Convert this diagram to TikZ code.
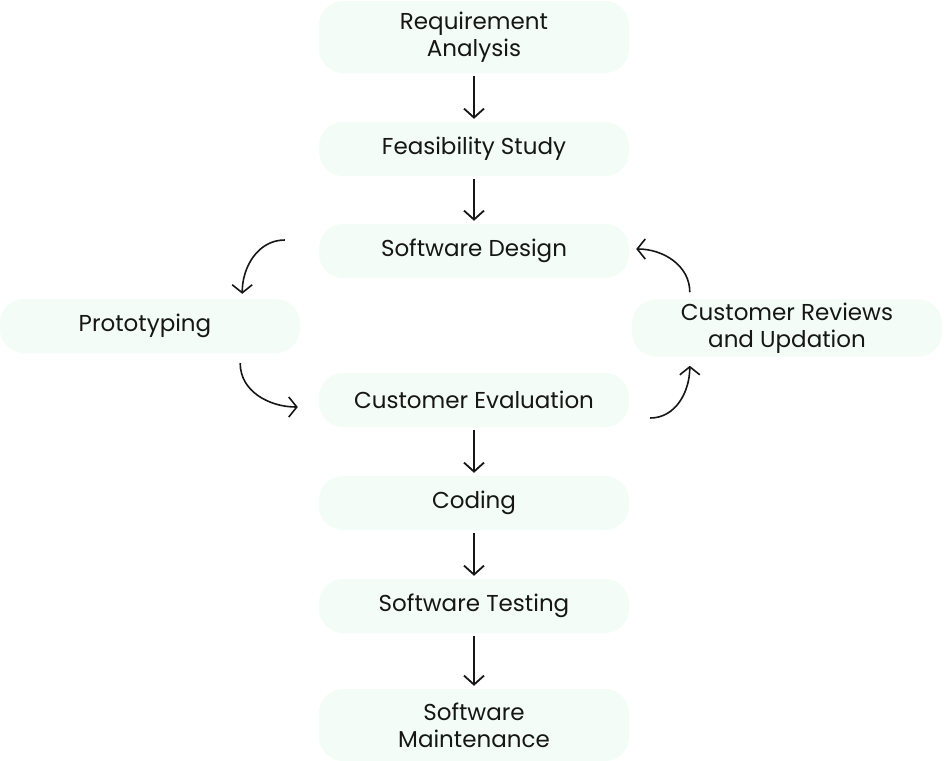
\documentclass[tikz,border=0pt]{standalone}
\usepackage{fontspec}
\setmainfont{Poppins}
\usetikzlibrary{arrows.meta}
\definecolor{mint}{RGB}{243,252,247}
\definecolor{ink}{RGB}{22,22,22}

\begin{document}
\begin{tikzpicture}[
	x=1pt, y=-1pt,
	stagebox/.style={rectangle, rounded corners=24pt, fill=mint, text=ink, minimum width=310pt, minimum height=54pt, align=center, font=\fontsize{23}{27}\selectfont},
	flow/.style={-{Straight Barb[length=9pt, width=20pt, line width=1.8pt]}, line width=1.8pt, ink, shorten <=3pt, shorten >=3pt},
	loop/.style={-{Straight Barb[length=8pt, width=20pt, line width=1.6pt]}, line width=1.6pt, ink},
	]
	\useasboundingbox (0,0) rectangle (946,761);
	%Nodes
	\node[stagebox, minimum height=72pt] (req)   at (474,37)  {Requirement\\Analysis};
	\node[stagebox]                      (feas)  at (474,149) {Feasibility Study};
	\node[stagebox]                      (des)   at (474,251) {Software Design};
	\node[stagebox, minimum width=300pt] (proto) at (150,326) {\hspace*{-10pt}Prototyping};
	\node[stagebox]                      (rev)   at (787,328) {Customer Reviews\\and Updation};
	\node[stagebox]                      (eval)  at (474,400) {Customer Evaluation};
	\node[stagebox]                      (code)  at (474,503) {Coding};
	\node[stagebox]                      (test)  at (474,606) {Software Testing};
	\node[stagebox, minimum height=72pt] (maint) at (474,725) {Software\\Maintenance};
	
	%Lines
	\draw[flow] (req) -- (feas);
	\draw[flow] (feas) -- (des);
	\draw[flow] (eval) -- (code);
	\draw[flow] (code) -- (test);
	\draw[flow] (test) -- (maint);
	
	%Loop arrows
	\draw[loop] ([shift={(-34,-11)}]des.west) to[out=180, in=90] ([shift={(-58,-5)}]proto.north east);
	\draw[loop] ([shift={(-60,10)}]proto.south east) to[out=-90, in=180] ([shift={(-21,7)}]eval.west);
	\draw[loop] ([shift={(21,18)}]eval.east) to[out=0, in=-90] ([shift={(58,9)}]rev.south west);
	\draw[loop] ([shift={(58,-7)}]rev.north west) to[out=90, in=0] ([shift={(7,-2)}]des.east);
\end{tikzpicture}
\end{document}
